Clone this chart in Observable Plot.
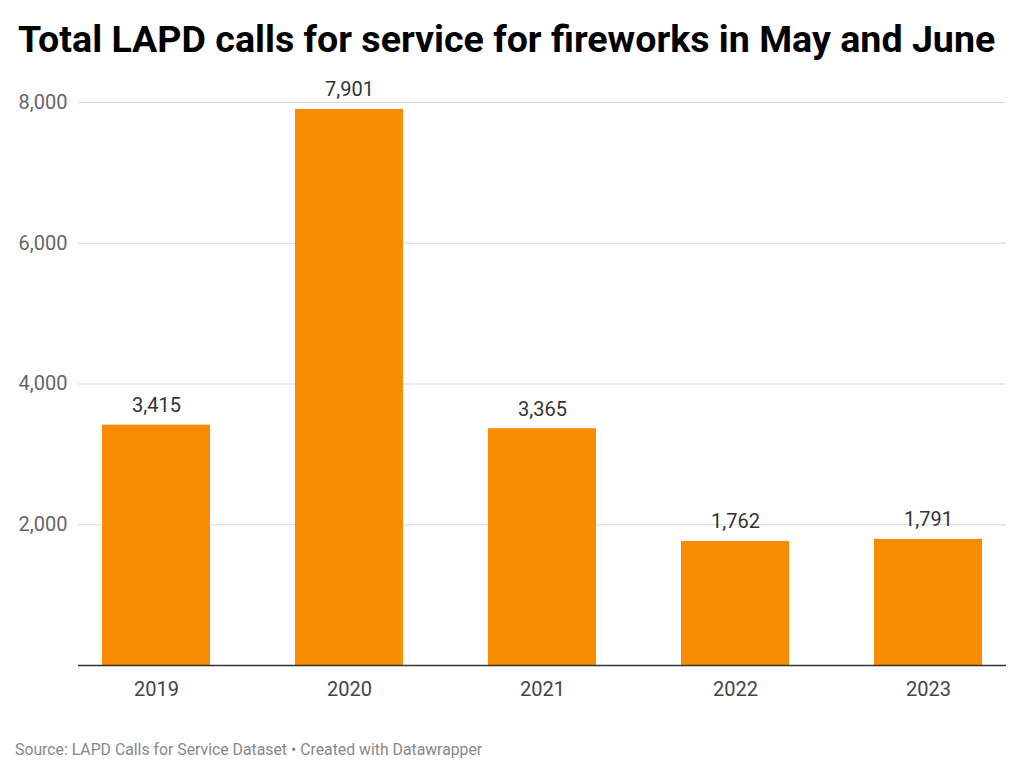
<!DOCTYPE html>
<html>
<head>
<meta charset="utf-8">
<script src="https://cdn.jsdelivr.net/npm/d3@7"></script>
<script src="https://cdn.jsdelivr.net/npm/@observablehq/plot@0.6"></script>
<style>
  html, body { margin: 0; padding: 0; background: #fff; }
  #wrap { position: relative; width: 1024px; height: 780px; font-family: Roboto, sans-serif; overflow: hidden; }
  #title { position: absolute; left: 18px; top: 20px; font-size: 37.6px; line-height: 38px; font-weight: 700; color: #000; white-space: nowrap; }
  #chart { position: absolute; left: 0; top: 60px; }
  #source { position: absolute; left: 15px; top: 742px; font-size: 15.8px; line-height: 16px; color: #888; white-space: nowrap; }
</style>
</head>
<body>
<div id="wrap">
  <div id="title">Total LAPD calls for service for fireworks in May and June</div>
  <div id="chart"></div>
  <div id="source">Source: LAPD Calls for Service Dataset • Created with Datawrapper</div>
</div>
<script>
const years = ["2019", "2020", "2021", "2022", "2023"];
const calls = [3415, 7901, 3365, 1762, 1791];
const yTicks = [2000, 4000, 6000, 8000];

const data = years.map((y, i) => ({year: y, calls: calls[i]}));
const fmt = d3.format(",");

const chart = Plot.plot({
  width: 1024,
  height: 660,
  marginTop: 42,
  marginBottom: 55,
  marginLeft: 78,
  marginRight: 18,
  style: {fontFamily: "Roboto, sans-serif", fontSize: "20px", background: "transparent"},
  x: {domain: years, paddingInner: 0.4426, paddingOuter: 0.118, label: null},
  y: {domain: [0, 8000], label: null},
  marks: [
    Plot.ruleY(yTicks, {stroke: "#d9d9d9", strokeWidth: 1}),
    Plot.barY(data, {x: "year", y: "calls", fill: "#f88c00"}),
    Plot.ruleY([0], {stroke: "#333", strokeWidth: 1.5}),
    Plot.text(data, {x: "year", y: "calls", text: d => fmt(d.calls), dy: -13, lineAnchor: "bottom", fill: "#333", fontSize: 20}),
    Plot.axisY({ticks: yTicks, tickFormat: fmt, tickSize: 0, tickPadding: 11, fill: "#666", fontSize: 20}),
    Plot.axisX({tickSize: 0, tickPadding: 16, fill: "#444", fontSize: 20})
  ]
});
document.getElementById("chart").appendChild(chart);
</script>
</body>
</html>
